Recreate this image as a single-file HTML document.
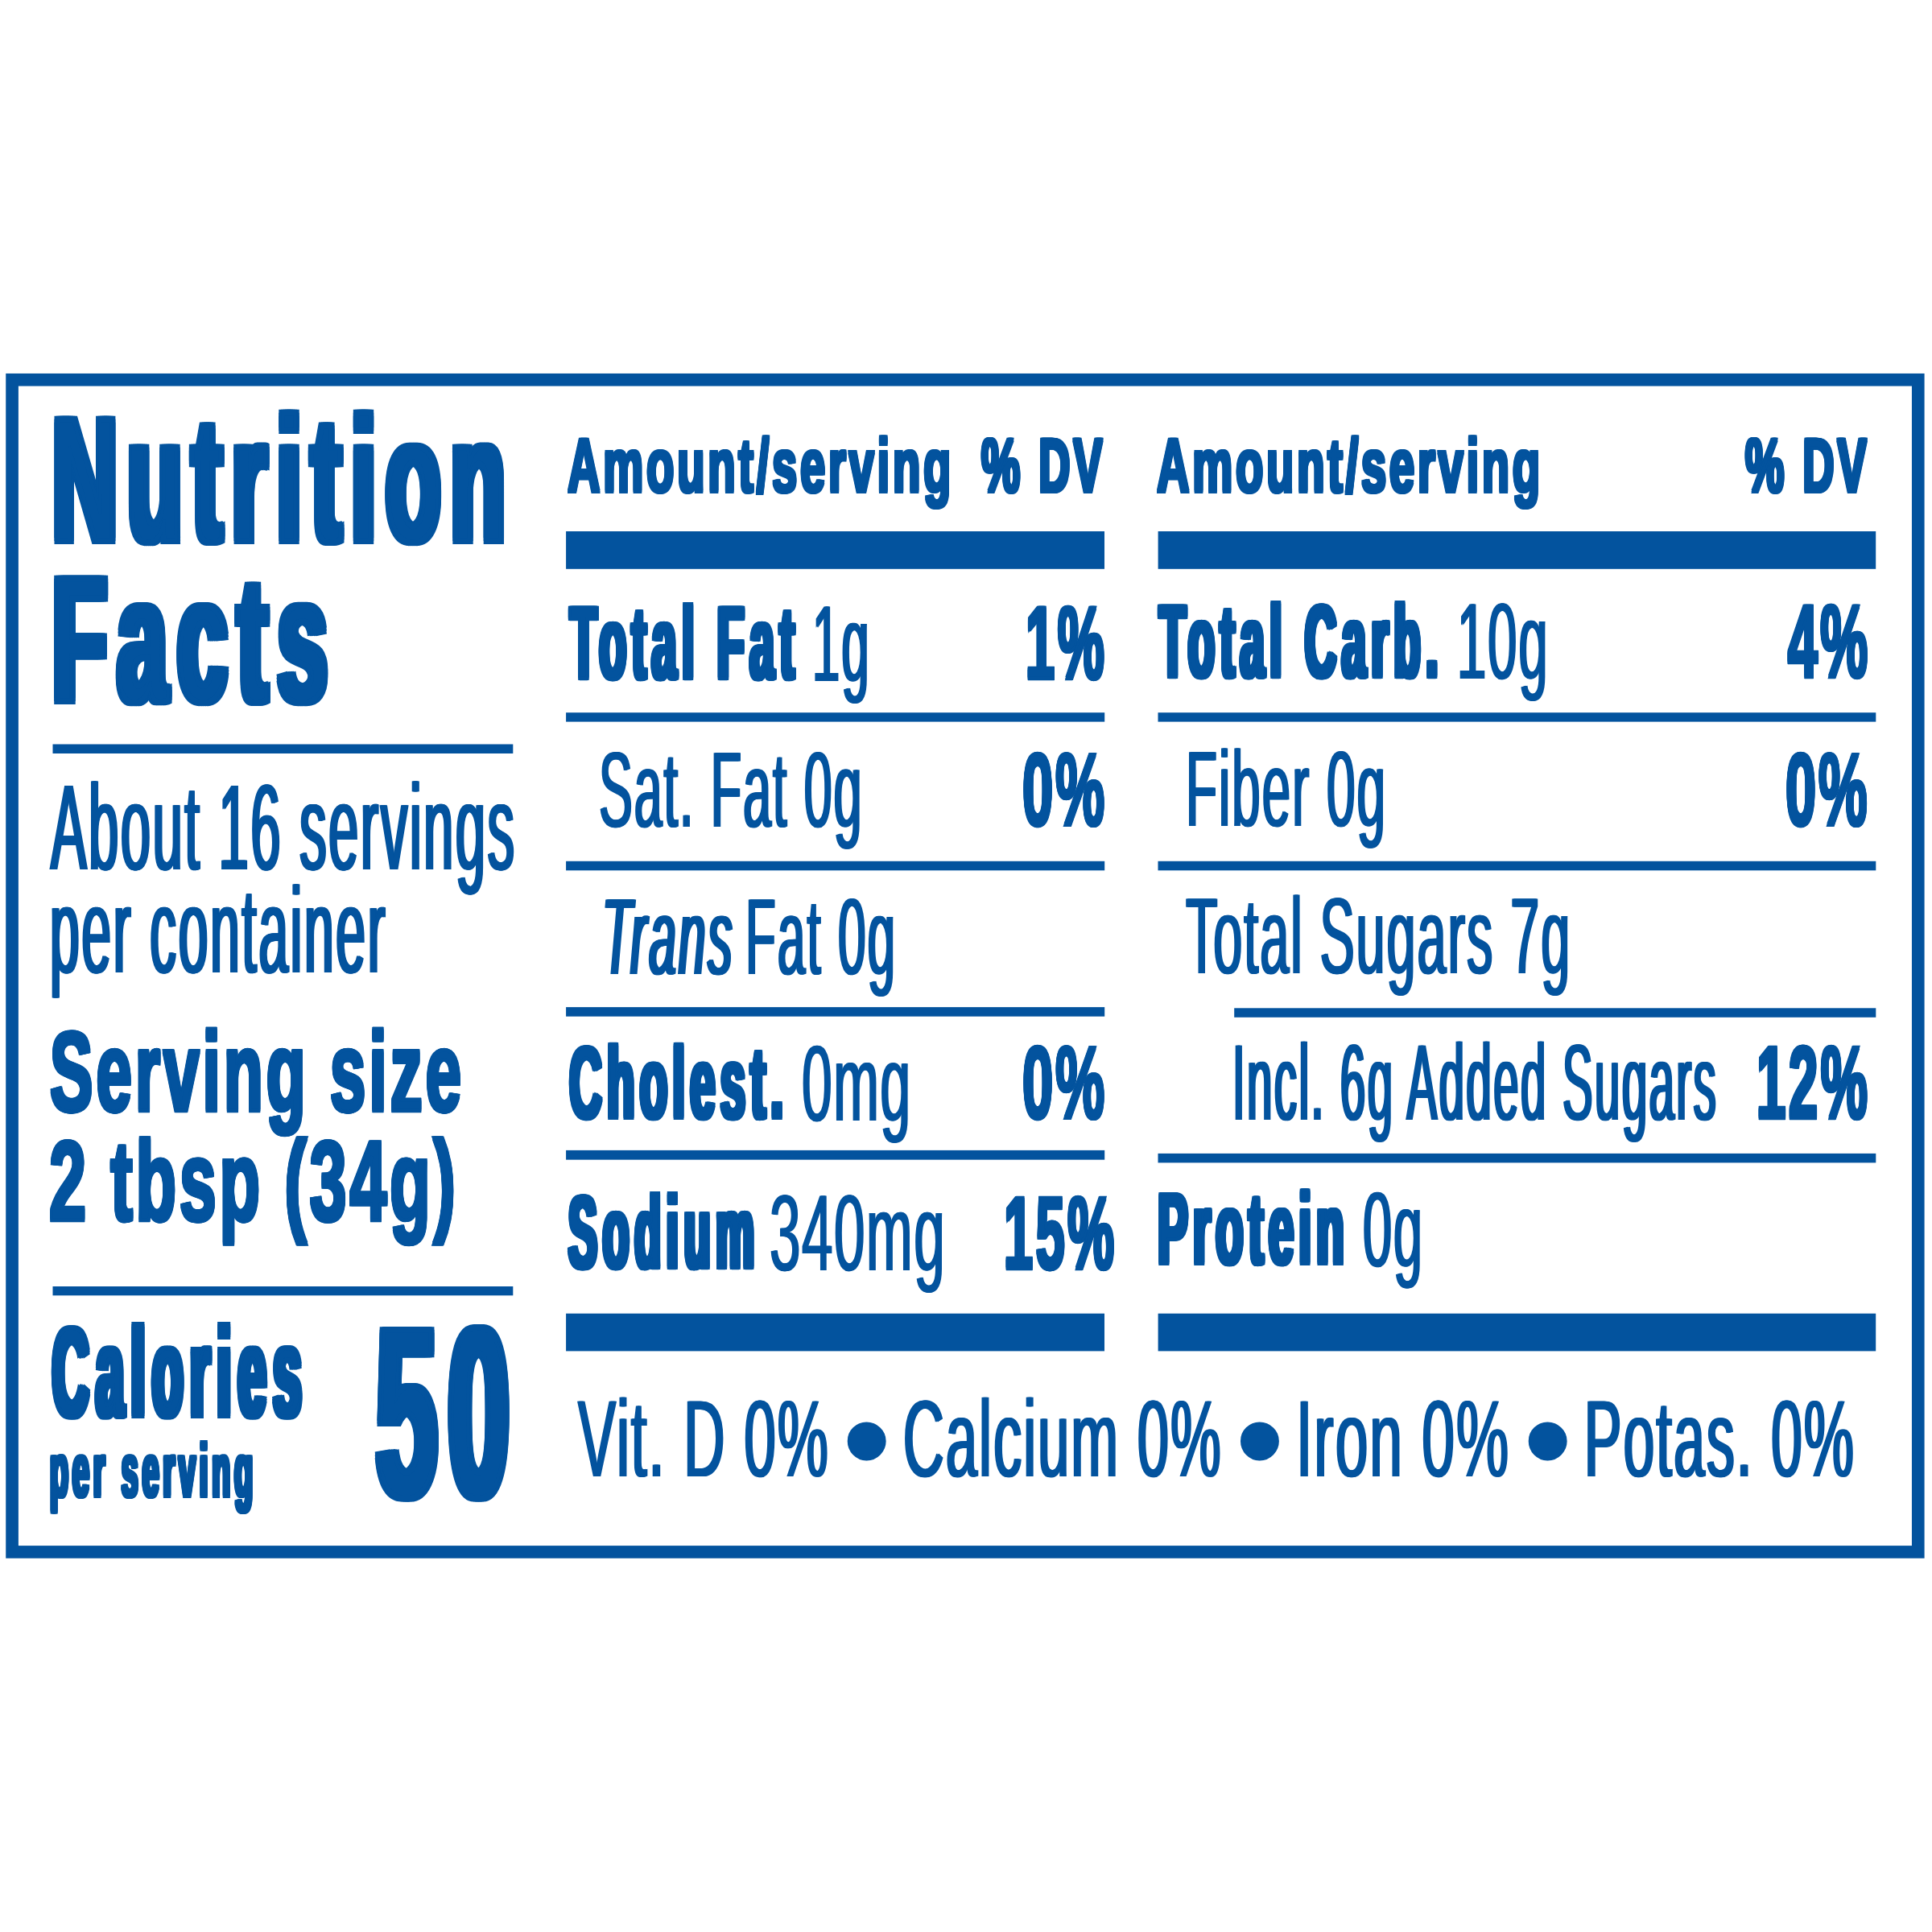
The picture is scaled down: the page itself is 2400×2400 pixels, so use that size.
<!DOCTYPE html>
<html lang="en">
<head>
<meta charset="utf-8">
<title>Nutrition Facts</title>
<style>
html,body{margin:0;padding:0;background:#fff;}
body{width:2400px;height:2400px;position:relative;overflow:hidden;font-family:"Liberation Sans",sans-serif;color:#03539E;}
.g{position:absolute;left:0;top:0;}
.t{position:absolute;height:300px;line-height:0;white-space:nowrap;}
.t i{display:inline-block;width:0;height:300px;vertical-align:baseline;}
.t span{display:inline-block;transform-origin:0 50%;line-height:0;text-rendering:geometricPrecision;}
</style>
</head>
<body>
<svg class="g" width="2400" height="2400" viewBox="0 0 2400 2400" fill="#03539E">
<rect class="frame" x="15.07" y="471.77" width="2367.70" height="1456.15" fill="none" stroke="#03539E" stroke-width="15.65"/>
<rect x="65.5" y="924.5" width="571.8" height="11.5"/>
<rect x="65.5" y="1598.0" width="571.8" height="11.3"/>
<rect x="703.1" y="660.0" width="668.9" height="46.8"/>
<rect x="1438.6" y="660.0" width="891.6" height="46.8"/>
<rect x="703.1" y="1631.7" width="668.9" height="46.7"/>
<rect x="1438.6" y="1631.7" width="891.6" height="46.7"/>
<rect x="703.1" y="885.2" width="669.1" height="11.4"/>
<rect x="1438.5" y="885.2" width="891.8" height="11.4"/>
<rect x="703.1" y="1069.8" width="669.1" height="11.5"/>
<rect x="1438.5" y="1069.8" width="891.8" height="11.5"/>
<rect x="703.1" y="1251.1" width="669.1" height="11.6"/>
<rect x="1533.2" y="1252.3" width="797.1" height="11.5"/>
<rect x="703.1" y="1428.9" width="669.1" height="11.8"/>
<rect x="1438.5" y="1432.9" width="891.8" height="11.5"/>
</svg>
<div class="t" style="left:64.76px;top:372.34px"><i></i><span style="font-size:219.90px;letter-spacing:23.59px;font-weight:700;-webkit-text-stroke:7.31px #03539E;text-shadow:-9.83px -3.66px 0 #03539E,-9.83px 0.00px 0 #03539E,-9.83px 3.66px 0 #03539E,-4.92px -3.66px 0 #03539E,-4.92px 0.00px 0 #03539E,-4.92px 3.66px 0 #03539E,0.00px -3.66px 0 #03539E,0.00px 3.66px 0 #03539E,4.92px -3.66px 0 #03539E,4.92px 0.00px 0 #03539E,4.92px 3.66px 0 #03539E,9.83px -3.66px 0 #03539E,9.83px 0.00px 0 #03539E,9.83px 3.66px 0 #03539E;transform:scaleX(0.5097);">Nutrition</span></div>
<div class="t" style="left:65.19px;top:570.52px"><i></i><span style="font-size:221.29px;letter-spacing:25.28px;font-weight:700;-webkit-text-stroke:7.36px #03539E;text-shadow:-10.54px -3.68px 0 #03539E,-10.54px 0.00px 0 #03539E,-10.54px 3.68px 0 #03539E,-5.27px -3.68px 0 #03539E,-5.27px 0.00px 0 #03539E,-5.27px 3.68px 0 #03539E,0.00px -3.68px 0 #03539E,0.00px 3.68px 0 #03539E,5.27px -3.68px 0 #03539E,5.27px 0.00px 0 #03539E,5.27px 3.68px 0 #03539E,10.54px -3.68px 0 #03539E,10.54px 0.00px 0 #03539E,10.54px 3.68px 0 #03539E;transform:scaleX(0.5031);">Facts</span></div>
<div class="t" style="left:62.71px;top:780.00px"><i></i><span style="font-size:151.17px;letter-spacing:5.94px;text-shadow:-3.71px 0.00px 0 #03539E,-1.86px 0.00px 0 #03539E,1.86px 0.00px 0 #03539E,3.71px 0.00px 0 #03539E;transform:scaleX(0.4414);">About 16 servings</span></div>
<div class="t" style="left:61.98px;top:908.40px"><i></i><span style="font-size:151.17px;letter-spacing:6.16px;text-shadow:-3.85px 0.00px 0 #03539E,-1.93px 0.00px 0 #03539E,1.93px 0.00px 0 #03539E,3.85px 0.00px 0 #03539E;transform:scaleX(0.4356);">per container</span></div>
<div class="t" style="left:61.93px;top:1079.96px"><i></i><span style="font-size:140.87px;letter-spacing:7.12px;font-weight:700;-webkit-text-stroke:4.68px #03539E;text-shadow:-2.97px -2.34px 0 #03539E,-2.97px 0.00px 0 #03539E,-2.97px 2.34px 0 #03539E,-1.48px -2.34px 0 #03539E,-1.48px 0.00px 0 #03539E,-1.48px 2.34px 0 #03539E,0.00px -2.34px 0 #03539E,0.00px 2.34px 0 #03539E,1.48px -2.34px 0 #03539E,1.48px 0.00px 0 #03539E,1.48px 2.34px 0 #03539E,2.97px -2.34px 0 #03539E,2.97px 0.00px 0 #03539E,2.97px 2.34px 0 #03539E;transform:scaleX(0.5677);">Serving size</span></div>
<div class="t" style="left:61.37px;top:1216.45px"><i></i><span style="font-size:141.42px;letter-spacing:6.21px;font-weight:700;-webkit-text-stroke:4.70px #03539E;text-shadow:-2.59px -2.35px 0 #03539E,-2.59px 0.00px 0 #03539E,-2.59px 2.35px 0 #03539E,0.00px -2.35px 0 #03539E,0.00px 2.35px 0 #03539E,2.59px -2.35px 0 #03539E,2.59px 0.00px 0 #03539E,2.59px 2.35px 0 #03539E;transform:scaleX(0.5857);">2 tbsp (34g)</span></div>
<div class="t" style="left:64.81px;top:1459.19px"><i></i><span style="font-size:157.23px;letter-spacing:22.36px;font-weight:700;-webkit-text-stroke:5.23px #03539E;text-shadow:-9.31px -2.61px 0 #03539E,-9.31px 0.00px 0 #03539E,-9.31px 2.61px 0 #03539E,-4.66px -2.61px 0 #03539E,-4.66px 0.00px 0 #03539E,-4.66px 2.61px 0 #03539E,0.00px -2.61px 0 #03539E,0.00px 2.61px 0 #03539E,4.66px -2.61px 0 #03539E,4.66px 0.00px 0 #03539E,4.66px 2.61px 0 #03539E,9.31px -2.61px 0 #03539E,9.31px 0.00px 0 #03539E,9.31px 2.61px 0 #03539E;transform:scaleX(0.3980);">Calories</span></div>
<div class="t" style="left:62.22px;top:1558.64px"><i></i><span style="font-size:93.87px;letter-spacing:12.36px;font-weight:700;-webkit-text-stroke:3.12px #03539E;text-shadow:-5.15px -1.56px 0 #03539E,-5.15px 0.00px 0 #03539E,-5.15px 1.56px 0 #03539E,-2.58px -1.56px 0 #03539E,-2.58px 0.00px 0 #03539E,-2.58px 1.56px 0 #03539E,0.00px -1.56px 0 #03539E,0.00px 1.56px 0 #03539E,2.58px -1.56px 0 #03539E,2.58px 0.00px 0 #03539E,2.58px 1.56px 0 #03539E,5.15px -1.56px 0 #03539E,5.15px 0.00px 0 #03539E,5.15px 1.56px 0 #03539E;transform:scaleX(0.4004);">per serving</span></div>
<div class="t" style="left:467.09px;top:1558.83px"><i></i><span style="font-size:301.12px;letter-spacing:29.08px;font-weight:700;-webkit-text-stroke:7.33px #03539E;text-shadow:-12.12px -3.67px 0 #03539E,-12.12px 0.00px 0 #03539E,-12.12px 3.67px 0 #03539E,-6.06px -3.67px 0 #03539E,-6.06px 0.00px 0 #03539E,-6.06px 3.67px 0 #03539E,0.00px -3.67px 0 #03539E,0.00px 3.67px 0 #03539E,6.06px -3.67px 0 #03539E,6.06px 0.00px 0 #03539E,6.06px 3.67px 0 #03539E,12.12px -3.67px 0 #03539E,12.12px 0.00px 0 #03539E,12.12px 3.67px 0 #03539E;transform:scaleX(0.4553);">50</span></div>
<div class="t" style="left:705.08px;top:311.43px"><i></i><span style="font-size:94.70px;letter-spacing:6.22px;font-weight:700;-webkit-text-stroke:3.15px #03539E;text-shadow:-2.59px -1.57px 0 #03539E,-2.59px 0.00px 0 #03539E,-2.59px 1.57px 0 #03539E,0.00px -1.57px 0 #03539E,0.00px 1.57px 0 #03539E,2.59px -1.57px 0 #03539E,2.59px 0.00px 0 #03539E,2.59px 1.57px 0 #03539E;transform:scaleX(0.5942);">Amount/serving</span></div>
<div class="t" style="left:1219.49px;top:311.43px"><i></i><span style="font-size:94.70px;letter-spacing:7.08px;font-weight:700;-webkit-text-stroke:3.15px #03539E;text-shadow:-2.95px -1.57px 0 #03539E,-2.95px 0.00px 0 #03539E,-2.95px 1.57px 0 #03539E,-1.48px -1.57px 0 #03539E,-1.48px 0.00px 0 #03539E,-1.48px 1.57px 0 #03539E,0.00px -1.57px 0 #03539E,0.00px 1.57px 0 #03539E,1.48px -1.57px 0 #03539E,1.48px 0.00px 0 #03539E,1.48px 1.57px 0 #03539E,2.95px -1.57px 0 #03539E,2.95px 0.00px 0 #03539E,2.95px 1.57px 0 #03539E;transform:scaleX(0.5717);">% DV</span></div>
<div class="t" style="left:707.57px;top:543.47px"><i></i><span style="font-size:128.25px;letter-spacing:15.19px;font-weight:700;-webkit-text-stroke:4.26px #03539E;text-shadow:-6.33px -2.13px 0 #03539E,-6.33px 0.00px 0 #03539E,-6.33px 2.13px 0 #03539E,-3.16px -2.13px 0 #03539E,-3.16px 0.00px 0 #03539E,-3.16px 2.13px 0 #03539E,0.00px -2.13px 0 #03539E,0.00px 2.13px 0 #03539E,3.16px -2.13px 0 #03539E,3.16px 0.00px 0 #03539E,3.16px 2.13px 0 #03539E,6.33px -2.13px 0 #03539E,6.33px 0.00px 0 #03539E,6.33px 2.13px 0 #03539E;transform:scaleX(0.4315);">Total Fat</span></div>
<div class="t" style="left:1009.32px;top:545.60px"><i></i><span style="font-size:134.45px;letter-spacing:4.79px;text-shadow:-2.99px 0.00px 0 #03539E,2.99px 0.00px 0 #03539E;transform:scaleX(0.4568);">1g</span></div>
<div class="t" style="left:1273.89px;top:543.47px"><i></i><span style="font-size:128.25px;letter-spacing:6.82px;font-weight:700;-webkit-text-stroke:4.26px #03539E;text-shadow:-2.84px -2.13px 0 #03539E,-2.84px 0.00px 0 #03539E,-2.84px 2.13px 0 #03539E,0.00px -2.13px 0 #03539E,0.00px 2.13px 0 #03539E,2.84px -2.13px 0 #03539E,2.84px 0.00px 0 #03539E,2.84px 2.13px 0 #03539E;transform:scaleX(0.5091);">1%</span></div>
<div class="t" style="left:743.70px;top:726.70px"><i></i><span style="font-size:133.29px;letter-spacing:4.37px;text-shadow:-2.73px 0.00px 0 #03539E,2.73px 0.00px 0 #03539E;transform:scaleX(0.4693);">Sat. Fat 0g</span></div>
<div class="t" style="left:1269.73px;top:724.88px"><i></i><span style="font-size:127.56px;letter-spacing:5.22px;font-weight:700;-webkit-text-stroke:4.24px #03539E;text-shadow:-2.18px -2.12px 0 #03539E,-2.18px 0.00px 0 #03539E,-2.18px 2.12px 0 #03539E,0.00px -2.12px 0 #03539E,0.00px 2.12px 0 #03539E,2.18px -2.12px 0 #03539E,2.18px 0.00px 0 #03539E,2.18px 2.12px 0 #03539E;transform:scaleX(0.5395);">0%</span></div>
<div class="t" style="left:748.41px;top:910.00px"><i></i><span style="font-size:134.60px;letter-spacing:7.16px;font-style:italic;text-shadow:-4.48px 0.00px 0 #03539E,-2.24px 0.00px 0 #03539E,2.24px 0.00px 0 #03539E,4.48px 0.00px 0 #03539E;transform:scaleX(0.4452);">Trans</span></div>
<div class="t" style="left:926.02px;top:910.00px"><i></i><span style="font-size:134.60px;letter-spacing:4.71px;text-shadow:-2.95px 0.00px 0 #03539E,2.95px 0.00px 0 #03539E;transform:scaleX(0.4594);">Fat 0g</span></div>
<div class="t" style="left:706.57px;top:1089.49px"><i></i><span style="font-size:127.00px;letter-spacing:14.03px;font-weight:700;-webkit-text-stroke:4.22px #03539E;text-shadow:-5.85px -2.11px 0 #03539E,-5.85px 0.00px 0 #03539E,-5.85px 2.11px 0 #03539E,-2.92px -2.11px 0 #03539E,-2.92px 0.00px 0 #03539E,-2.92px 2.11px 0 #03539E,0.00px -2.11px 0 #03539E,0.00px 2.11px 0 #03539E,2.92px -2.11px 0 #03539E,2.92px 0.00px 0 #03539E,2.92px 2.11px 0 #03539E,5.85px -2.11px 0 #03539E,5.85px 0.00px 0 #03539E,5.85px 2.11px 0 #03539E;transform:scaleX(0.4439);">Cholest.</span></div>
<div class="t" style="left:996.30px;top:1092.30px"><i></i><span style="font-size:133.72px;letter-spacing:3.40px;text-shadow:-2.13px 0.00px 0 #03539E,2.13px 0.00px 0 #03539E;transform:scaleX(0.5054);">0mg</span></div>
<div class="t" style="left:1269.73px;top:1089.38px"><i></i><span style="font-size:127.56px;letter-spacing:5.22px;font-weight:700;-webkit-text-stroke:4.24px #03539E;text-shadow:-2.18px -2.12px 0 #03539E,-2.18px 0.00px 0 #03539E,-2.18px 2.12px 0 #03539E,0.00px -2.12px 0 #03539E,0.00px 2.12px 0 #03539E,2.18px -2.12px 0 #03539E,2.18px 0.00px 0 #03539E,2.18px 2.12px 0 #03539E;transform:scaleX(0.5395);">0%</span></div>
<div class="t" style="left:706.41px;top:1275.37px"><i></i><span style="font-size:128.25px;letter-spacing:16.31px;font-weight:700;-webkit-text-stroke:4.26px #03539E;text-shadow:-6.80px -2.13px 0 #03539E,-6.80px 0.00px 0 #03539E,-6.80px 2.13px 0 #03539E,-3.40px -2.13px 0 #03539E,-3.40px 0.00px 0 #03539E,-3.40px 2.13px 0 #03539E,0.00px -2.13px 0 #03539E,0.00px 2.13px 0 #03539E,3.40px -2.13px 0 #03539E,3.40px 0.00px 0 #03539E,3.40px 2.13px 0 #03539E,6.80px -2.13px 0 #03539E,6.80px 0.00px 0 #03539E,6.80px 2.13px 0 #03539E;transform:scaleX(0.4185);">Sodium</span></div>
<div class="t" style="left:956.20px;top:1277.50px"><i></i><span style="font-size:134.45px;letter-spacing:3.22px;text-shadow:-2.01px 0.00px 0 #03539E,2.01px 0.00px 0 #03539E;transform:scaleX(0.5132);">340mg</span></div>
<div class="t" style="left:1247.36px;top:1275.87px"><i></i><span style="font-size:127.97px;letter-spacing:6.90px;font-weight:700;-webkit-text-stroke:4.25px #03539E;text-shadow:-2.88px -2.13px 0 #03539E,-2.88px 0.00px 0 #03539E,-2.88px 2.13px 0 #03539E,0.00px -2.13px 0 #03539E,0.00px 2.13px 0 #03539E,2.88px -2.13px 0 #03539E,2.88px 0.00px 0 #03539E,2.88px 2.13px 0 #03539E;transform:scaleX(0.5074);">15%</span></div>
<div class="t" style="left:1437.08px;top:311.43px"><i></i><span style="font-size:94.70px;letter-spacing:6.24px;font-weight:700;-webkit-text-stroke:3.15px #03539E;text-shadow:-2.60px -1.57px 0 #03539E,-2.60px 0.00px 0 #03539E,-2.60px 1.57px 0 #03539E,0.00px -1.57px 0 #03539E,0.00px 1.57px 0 #03539E,2.60px -1.57px 0 #03539E,2.60px 0.00px 0 #03539E,2.60px 1.57px 0 #03539E;transform:scaleX(0.5938);">Amount/serving</span></div>
<div class="t" style="left:2167.89px;top:311.43px"><i></i><span style="font-size:94.70px;letter-spacing:7.05px;font-weight:700;-webkit-text-stroke:3.15px #03539E;text-shadow:-2.94px -1.57px 0 #03539E,-2.94px 0.00px 0 #03539E,-2.94px 1.57px 0 #03539E,-1.47px -1.57px 0 #03539E,-1.47px 0.00px 0 #03539E,-1.47px 1.57px 0 #03539E,0.00px -1.57px 0 #03539E,0.00px 1.57px 0 #03539E,1.47px -1.57px 0 #03539E,1.47px 0.00px 0 #03539E,1.47px 1.57px 0 #03539E,2.94px -1.57px 0 #03539E,2.94px 0.00px 0 #03539E,2.94px 1.57px 0 #03539E;transform:scaleX(0.5726);">% DV</span></div>
<div class="t" style="left:1439.69px;top:540.77px"><i></i><span style="font-size:128.25px;letter-spacing:15.97px;font-weight:700;-webkit-text-stroke:4.26px #03539E;text-shadow:-6.65px -2.13px 0 #03539E,-6.65px 0.00px 0 #03539E,-6.65px 2.13px 0 #03539E,-3.33px -2.13px 0 #03539E,-3.33px 0.00px 0 #03539E,-3.33px 2.13px 0 #03539E,0.00px -2.13px 0 #03539E,0.00px 2.13px 0 #03539E,3.33px -2.13px 0 #03539E,3.33px 0.00px 0 #03539E,3.33px 2.13px 0 #03539E,6.65px -2.13px 0 #03539E,6.65px 0.00px 0 #03539E,6.65px 2.13px 0 #03539E;transform:scaleX(0.4224);">Total Carb.</span></div>
<div class="t" style="left:1810.47px;top:542.90px"><i></i><span style="font-size:134.45px;letter-spacing:3.97px;text-shadow:-2.48px 0.00px 0 #03539E,2.48px 0.00px 0 #03539E;transform:scaleX(0.4848);">10g</span></div>
<div class="t" style="left:2220.63px;top:540.77px"><i></i><span style="font-size:128.25px;letter-spacing:6.39px;font-weight:700;-webkit-text-stroke:4.26px #03539E;text-shadow:-2.66px -2.13px 0 #03539E,-2.66px 0.00px 0 #03539E,-2.66px 2.13px 0 #03539E,0.00px -2.13px 0 #03539E,0.00px 2.13px 0 #03539E,2.66px -2.13px 0 #03539E,2.66px 0.00px 0 #03539E,2.66px 2.13px 0 #03539E;transform:scaleX(0.5172);">4%</span></div>
<div class="t" style="left:1473.31px;top:726.00px"><i></i><span style="font-size:133.29px;letter-spacing:4.08px;text-shadow:-2.55px 0.00px 0 #03539E,2.55px 0.00px 0 #03539E;transform:scaleX(0.4795);">Fiber 0g</span></div>
<div class="t" style="left:2217.79px;top:724.88px"><i></i><span style="font-size:127.56px;letter-spacing:5.39px;font-weight:700;-webkit-text-stroke:4.24px #03539E;text-shadow:-2.25px -2.12px 0 #03539E,-2.25px 0.00px 0 #03539E,-2.25px 2.12px 0 #03539E,0.00px -2.12px 0 #03539E,0.00px 2.12px 0 #03539E,2.25px -2.12px 0 #03539E,2.25px 0.00px 0 #03539E,2.25px 2.12px 0 #03539E;transform:scaleX(0.5360);">0%</span></div>
<div class="t" style="left:1472.96px;top:909.30px"><i></i><span style="font-size:134.45px;letter-spacing:4.06px;text-shadow:-2.54px 0.00px 0 #03539E,2.54px 0.00px 0 #03539E;transform:scaleX(0.4815);">Total Sugars 7g</span></div>
<div class="t" style="left:1531.46px;top:1090.70px"><i></i><span style="font-size:134.16px;letter-spacing:6.06px;text-shadow:-3.79px 0.00px 0 #03539E,3.79px 0.00px 0 #03539E;transform:scaleX(0.4190);">Incl. 6g Added Sugars</span></div>
<div class="t" style="left:2182.26px;top:1088.57px"><i></i><span style="font-size:127.97px;letter-spacing:6.66px;font-weight:700;-webkit-text-stroke:4.25px #03539E;text-shadow:-2.78px -2.13px 0 #03539E,-2.78px 0.00px 0 #03539E,-2.78px 2.13px 0 #03539E,0.00px -2.13px 0 #03539E,0.00px 2.13px 0 #03539E,2.78px -2.13px 0 #03539E,2.78px 0.00px 0 #03539E,2.78px 2.13px 0 #03539E;transform:scaleX(0.5118);">12%</span></div>
<div class="t" style="left:1438.06px;top:1270.40px"><i></i><span style="font-size:126.17px;letter-spacing:13.51px;font-weight:700;-webkit-text-stroke:4.19px #03539E;text-shadow:-5.63px -2.10px 0 #03539E,-5.63px 0.00px 0 #03539E,-5.63px 2.10px 0 #03539E,-2.82px -2.10px 0 #03539E,-2.82px 0.00px 0 #03539E,-2.82px 2.10px 0 #03539E,0.00px -2.10px 0 #03539E,0.00px 2.10px 0 #03539E,2.82px -2.10px 0 #03539E,2.82px 0.00px 0 #03539E,2.82px 2.10px 0 #03539E,5.63px -2.10px 0 #03539E,5.63px 0.00px 0 #03539E,5.63px 2.10px 0 #03539E;transform:scaleX(0.4495);">Protein</span></div>
<div class="t" style="left:1692.95px;top:1273.00px"><i></i><span style="font-size:132.27px;letter-spacing:3.76px;text-shadow:-2.35px 0.00px 0 #03539E,2.35px 0.00px 0 #03539E;transform:scaleX(0.4902);">0g</span></div>
<div class="t" style="left:717.83px;top:1533.90px"><i></i><span style="font-size:135.47px;letter-spacing:4.19px;text-shadow:-2.62px 0.00px 0 #03539E,2.62px 0.00px 0 #03539E;transform:scaleX(0.5215);">Vit. D 0%</span></div>
<div class="t b" style="left:1045.76px;top:1549.06px"><i></i><span style="font-size:176.76px">&bull;</span></div>
<div class="t" style="left:1121.90px;top:1533.90px"><i></i><span style="font-size:135.47px;letter-spacing:4.27px;text-shadow:-2.67px 0.00px 0 #03539E,2.67px 0.00px 0 #03539E;transform:scaleX(0.5184);">Calcium 0%</span></div>
<div class="t b" style="left:1534.06px;top:1549.06px"><i></i><span style="font-size:176.76px">&bull;</span></div>
<div class="t" style="left:1610.09px;top:1533.90px"><i></i><span style="font-size:135.47px;letter-spacing:3.73px;text-shadow:-2.33px 0.00px 0 #03539E,2.33px 0.00px 0 #03539E;transform:scaleX(0.5397);">Iron 0%</span></div>
<div class="t b" style="left:1891.86px;top:1549.06px"><i></i><span style="font-size:176.76px">&bull;</span></div>
<div class="t" style="left:1968.32px;top:1533.90px"><i></i><span style="font-size:135.47px;letter-spacing:4.42px;text-shadow:-2.76px 0.00px 0 #03539E,2.76px 0.00px 0 #03539E;transform:scaleX(0.5128);">Potas. 0%</span></div>
</body>
</html>
